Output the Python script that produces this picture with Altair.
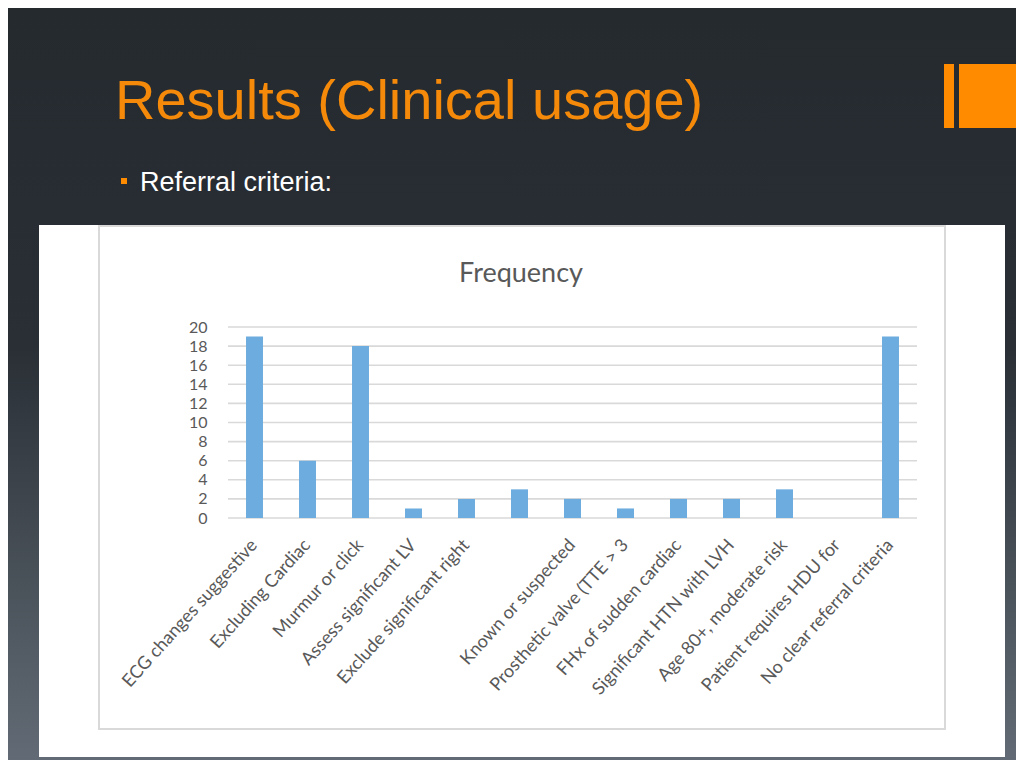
import altair as alt
import pandas as pd

# ---- data -------------------------------------------------------------
categories = [
    "ECG changes suggestive",
    "Excluding Cardiac",
    "Murmur or click",
    "Assess significant LV",
    "Exclude significant right",
    " ",
    "Known or suspected",
    "Prosthetic valve (TTE > 3",
    "FHx of sudden cardiac",
    "Significant HTN with LVH",
    "Age 80+, moderate risk",
    "Patient requires HDU for",
    "No clear referral criteria",
]
frequency = [19, 6, 18, 1, 2, 3, 2, 1, 2, 2, 3, 0, 19]
y_ticks = [0, 2, 4, 6, 8, 10, 12, 14, 16, 18, 20]

slide_title = "Results (Clinical usage)"
bullet_text = "Referral criteria:"
chart_title = "Frequency"

df = pd.DataFrame({"criterion": categories, "count": frequency})
grid_df = pd.DataFrame({"count": y_ticks})
one = pd.DataFrame({"a": [0]})

# plot area (view) size; view origin sits at page (228, 327)
W, H = 689, 191
OX, OY = 228, 327
PAGE_R, PAGE_B = 1016, 760


def px(X):
    return X - OX


def py(Y):
    return Y - OY


def box(x1, y1, x2, y2, **kw):
    return alt.Chart(one).mark_rect(**kw).encode(
        x=alt.value(px(x1)), x2=alt.value(px(x2)),
        y=alt.value(py(y1)), y2=alt.value(py(y2)),
    )


def label(text, X, Y, **kw):
    return alt.Chart(one).mark_text(text=text, baseline="alphabetic", **kw).encode(
        x=alt.value(px(X)), y=alt.value(py(Y))
    )


bg_grad = alt.LinearGradient(
    gradient="linear",
    stops=[
        alt.GradientStop(offset=0, color="#252a2f"),
        alt.GradientStop(offset=0.45, color="#292f35"),
        alt.GradientStop(offset=1, color="#626b75"),
    ],
    x1=0, x2=0, y1=0, y2=1,
)

background = box(8, 8, PAGE_R, PAGE_B, fill=bg_grad)
white_box = box(39, 225, 1005, 757, fill="#ffffff")
inner_border = box(99, 226, 945, 729, fill="#ffffff", stroke="#d9d9d9", strokeWidth=2)
orange_thin = box(944, 64, 954, 128, fill="#ff8c00")
orange_thick = box(959, 64, PAGE_R, 128, fill="#ff8c00")
bullet = box(121, 178, 127, 184, fill="#ff8c00")

title_txt = label(slide_title, 115, 119, align="left", font="Liberation Sans",
                  fontSize=56, color="#f58a0a")
bullet_txt = label(bullet_text, 140, 191, align="left", font="Liberation Sans",
                   fontSize=27, color="#ffffff")
freq_txt = label(chart_title, 521, 282, align="center", font="Lato",
                 fontSize=27, color="#595959")

x_enc = alt.X(
    "criterion:N",
    sort=categories,
    title=None,
    scale=alt.Scale(paddingInner=0.68, paddingOuter=0.34),
    axis=alt.Axis(
        labelAngle=-48, labelAlign="right", labelBaseline="middle",
        labelPadding=24, ticks=False, tickSize=0, domain=False,
        labelFont="Lato", labelFontSize=18, labelColor="#595959",
        labelLimit=400, labelOverlap=False, grid=False, zindex=1,
    ),
)
y_scale = alt.Scale(domain=[0, 20], nice=False)
y_axis = alt.Axis(
    values=y_ticks, grid=False, ticks=False, tickSize=0, domain=False,
    labelPadding=21, labelFont="Lato", labelFontSize=16,
    labelColor="#595959", labelOverlap=False, zindex=1,
)

grid = alt.Chart(grid_df).mark_rule(color="#d9d9d9", strokeWidth=1.6).encode(
    y=alt.Y("count:Q", scale=y_scale, title=None, axis=y_axis),
    x=alt.value(0), x2=alt.value(W),
)

bars = alt.Chart(df).mark_bar(color="#6cacde").encode(
    x=x_enc,
    y=alt.Y("count:Q", scale=y_scale, title=None, axis=y_axis),
)

chart = alt.layer(
    background, white_box, inner_border, orange_thin, orange_thick, bullet,
    title_txt, bullet_txt, freq_txt, grid, bars,
).properties(
    width=W,
    height=H,
    padding={"left": OX - 8, "top": OY - 8, "right": PAGE_R - OX - W,
             "bottom": PAGE_B - OY - H},
    autosize=alt.AutoSizeParams(type="none"),
).configure_view(stroke=None).configure(background="#262b30")

chart.save("out.html", embed_options={"renderer": "svg", "actions": False})
